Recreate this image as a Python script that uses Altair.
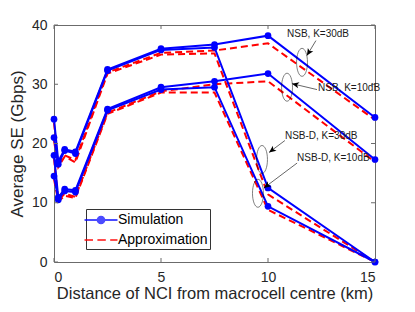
import math
import altair as alt
import pandas as pd

# ---------------- data ----------------
x_km = [0, 0.2, 0.5, 1, 2.5, 5, 7.5, 10, 15]
nsb30_sim = [24.1, 17.0, 19.0, 18.6, 32.5, 36.0, 36.7, 38.2, 24.4]
nsb30_app = [23.5, 16.3, 18.0, 17.2, 32.0, 35.3, 35.7, 36.9, 24.0]
nsbd30_sim = [21.0, 16.5, 18.8, 18.3, 32.3, 35.8, 36.2, 12.5, 0]
nsbd30_app = [20.5, 16.0, 17.8, 16.8, 31.8, 35.0, 35.2, 11.4, 0]
nsb10_sim = [18.0, 10.9, 12.3, 12.1, 25.8, 29.5, 30.5, 31.8, 17.3]
nsb10_app = [17.5, 10.4, 11.5, 11.0, 25.2, 28.8, 30.0, 30.5, 16.9]
nsbd10_sim = [14.5, 10.5, 12.0, 11.8, 25.6, 29.1, 29.5, 9.4, 0]
nsbd10_app = [14.0, 10.2, 11.2, 10.8, 25.0, 28.6, 28.6, 8.8, 0]

series_names = ["NSB, K=30dB", "NSB-D, K=30dB", "NSB, K=10dB", "NSB-D, K=10dB"]
types = ["Simulation", "Approximation"]

x_ticks = [0, 5, 10, 15]
y_ticks = [0, 10, 20, 30, 40]

# annotations (labels, ellipses, arrows) in data units
ann_text = ["NSB, K=30dB", "NSB, K=10dB", "NSB-D, K=30dB", "NSB-D, K=10dB"]
ann_text_x = [10.89, 12.34, 10.79, 11.36]
ann_text_y = [38.55, 29.3, 21.2, 17.5]
ell_x = [11.59, 10.89, 9.72, 9.53]
ell_y = [33.7, 29.5, 17.3, 11.6]
arr_x0 = [12.24, 12.29, 10.79, 11.36]
arr_y0 = [37.37, 29.1, 20.5, 16.7]
arr_x1 = [11.82, 11.12, 10.05, 9.81]
arr_y1 = [34.85, 30.1, 18.5, 12.5]

# ---------------- tables ----------------
rows = []
sim_lists = [nsb30_sim, nsbd30_sim, nsb10_sim, nsbd10_sim]
app_lists = [nsb30_app, nsbd30_app, nsb10_app, nsbd10_app]
for name, s_vals, a_vals in zip(series_names, sim_lists, app_lists):
    for xv, sv, av in zip(x_km, s_vals, a_vals):
        rows.append({"x": xv, "y": sv, "series": name, "type": "Simulation"})
        rows.append({"x": xv, "y": av, "series": name, "type": "Approximation"})
df = pd.DataFrame(rows)
df_sim = df[df["type"] == "Simulation"]
df_app = df[df["type"] == "Approximation"]

W, H = 321, 237
px_x = W / 15.0
px_y = H / 40.0
angles = []
for a, b, c, d in zip(arr_x0, arr_y0, arr_x1, arr_y1):
    ang = math.degrees(math.atan2(-(d - b) * px_y, (c - a) * px_x)) % 360
    angles.append(ang)
ann = pd.DataFrame({
    "text": ann_text, "tx": ann_text_x, "ty": ann_text_y,
    "ex": ell_x, "ey": ell_y,
    "x0": arr_x0, "y0": arr_y0, "x1": arr_x1, "y1": arr_y1,
    "angle": angles,
})

FONT = "Liberation Sans"
FRAME = "#6b6b6b"
BLUE = "#0000ff"
RED = "#ff0000"

xs = alt.Scale(domain=[0, 15], nice=False, zero=False)
ys = alt.Scale(domain=[0, 40], nice=False)

X = alt.X("x:Q", scale=xs, axis=alt.Axis(
    values=x_ticks, title="Distance of NCI from macrocell centre (km)",
    ticks=False, domain=False, grid=False, labelPadding=8,
    titleY=36.5, titleBaseline="alphabetic",
    labelFont=FONT, titleFont=FONT, labelFontSize=14, titleFontSize=16.5,
    labelColor="#262626", titleColor="#262626", titleFontWeight="normal"))
Y = alt.Y("y:Q", scale=ys, axis=alt.Axis(
    values=y_ticks, title="Average SE (Gbps)",
    ticks=False, domain=False, grid=False, labelPadding=7, titlePadding=5,
    labelFont=FONT, titleFont=FONT, labelFontSize=14, titleFontSize=17,
    labelColor="#262626", titleColor="#262626", titleFontWeight="normal"))

app_lines = alt.Chart(df_app).mark_line(
    color=RED, strokeWidth=2, strokeDash=[7, 4]
).encode(x=X, y=Y, detail="series:N")

sim_lines = alt.Chart(df_sim).mark_line(
    color=BLUE, strokeWidth=2
).encode(x="x:Q", y="y:Q", detail="series:N")

sim_points = alt.Chart(df_sim).mark_point(
    filled=True, shape="circle", size=45, color=BLUE, opacity=1
).encode(x="x:Q", y="y:Q")

# legend (symbols drawn by the legend only)
shape_sim = ("M-2.06,0 L2.06,0 "
             "M-0.42,0 A0.42,0.42 0 1,0 0.42,0 A0.42,0.42 0 1,0 -0.42,0 "
             "M-0.28,0 A0.28,0.28 0 1,0 0.28,0 A0.28,0.28 0 1,0 -0.28,0 "
             "M-0.14,0 A0.14,0.14 0 1,0 0.14,0 A0.14,0.14 0 1,0 -0.14,0")
shape_app = "M-2.06,0 L-1.0,0 M-0.45,0 L0.6,0 M1.15,0 L2.06,0"

leg_props = dict(title=None, orient="none", legendX=32, legendY=184,
                 symbolSize=256, symbolStrokeWidth=2, labelFontSize=14,
                 labelFont=FONT, labelColor="#000000", padding=2,
                 rowPadding=3, strokeColor="#333333", fillColor="white",
                 symbolOffset=4, labelOffset=8)
legend_layer = alt.Chart(df).mark_point(filled=False, strokeWidth=2).encode(
    x="x:Q", y="y:Q",
    shape=alt.Shape("type:N", scale=alt.Scale(domain=types, range=[shape_sim, shape_app]),
                    legend=alt.Legend(**leg_props)),
    color=alt.Color("type:N", scale=alt.Scale(domain=types, range=[BLUE, RED]),
                    legend=alt.Legend(**leg_props)),
    size=alt.value(0),
)

# inward ticks on all four sides
ydf = pd.DataFrame({"v": y_ticks})
xdf = pd.DataFrame({"v": x_ticks})
tick_left = alt.Chart(ydf).mark_rule(color=FRAME).encode(y="v:Q", x=alt.value(0), x2=alt.value(4))
tick_right = alt.Chart(ydf).mark_rule(color=FRAME).encode(y="v:Q", x=alt.value(W - 4), x2=alt.value(W))
tick_top = alt.Chart(xdf).mark_rule(color=FRAME).encode(x="v:Q", y=alt.value(0), y2=alt.value(4))
tick_bottom = alt.Chart(xdf).mark_rule(color=FRAME).encode(x="v:Q", y=alt.value(H - 4), y2=alt.value(H))

# annotations
ellipse_path = "M0,-1 A0.39,1 0 1,1 0,1 A0.39,1 0 1,1 0,-1 Z"
ellipses = alt.Chart(ann).mark_point(
    shape=ellipse_path, size=784, filled=False, color="#000000", strokeWidth=0.7
).encode(x="ex:Q", y="ey:Q")
arrow_lines = alt.Chart(ann).mark_rule(color="#000000", strokeWidth=0.6).encode(
    x="x0:Q", y="y0:Q", x2="x1:Q", y2="y1:Q")
arrow_heads = alt.Chart(ann).mark_point(
    shape="M0,0 L-1,-0.45 L-0.75,0 L-1,0.45 Z", size=196, filled=True,
    color="#000000", opacity=1
).encode(x="x1:Q", y="y1:Q", angle=alt.Angle("angle:Q", scale=None))
labels = alt.Chart(ann).mark_text(
    align="left", baseline="middle", font=FONT, fontSize=10, color="#1a1a1a"
).encode(x="tx:Q", y="ty:Q", text="text:N")

chart = alt.layer(
    app_lines, sim_lines, sim_points,
    tick_left, tick_right, tick_top, tick_bottom,
    ellipses, arrow_lines, arrow_heads, labels,
    legend_layer,
).properties(
    width=W, height=H,
    background="white",
    autosize=alt.AutoSizeParams(type="none"),
    padding={"left": 46, "top": 17, "right": 14, "bottom": 40},
).configure_view(
    stroke=FRAME, strokeWidth=1
)

chart.save("out.html", embed_options={"renderer": "svg", "actions": False})
